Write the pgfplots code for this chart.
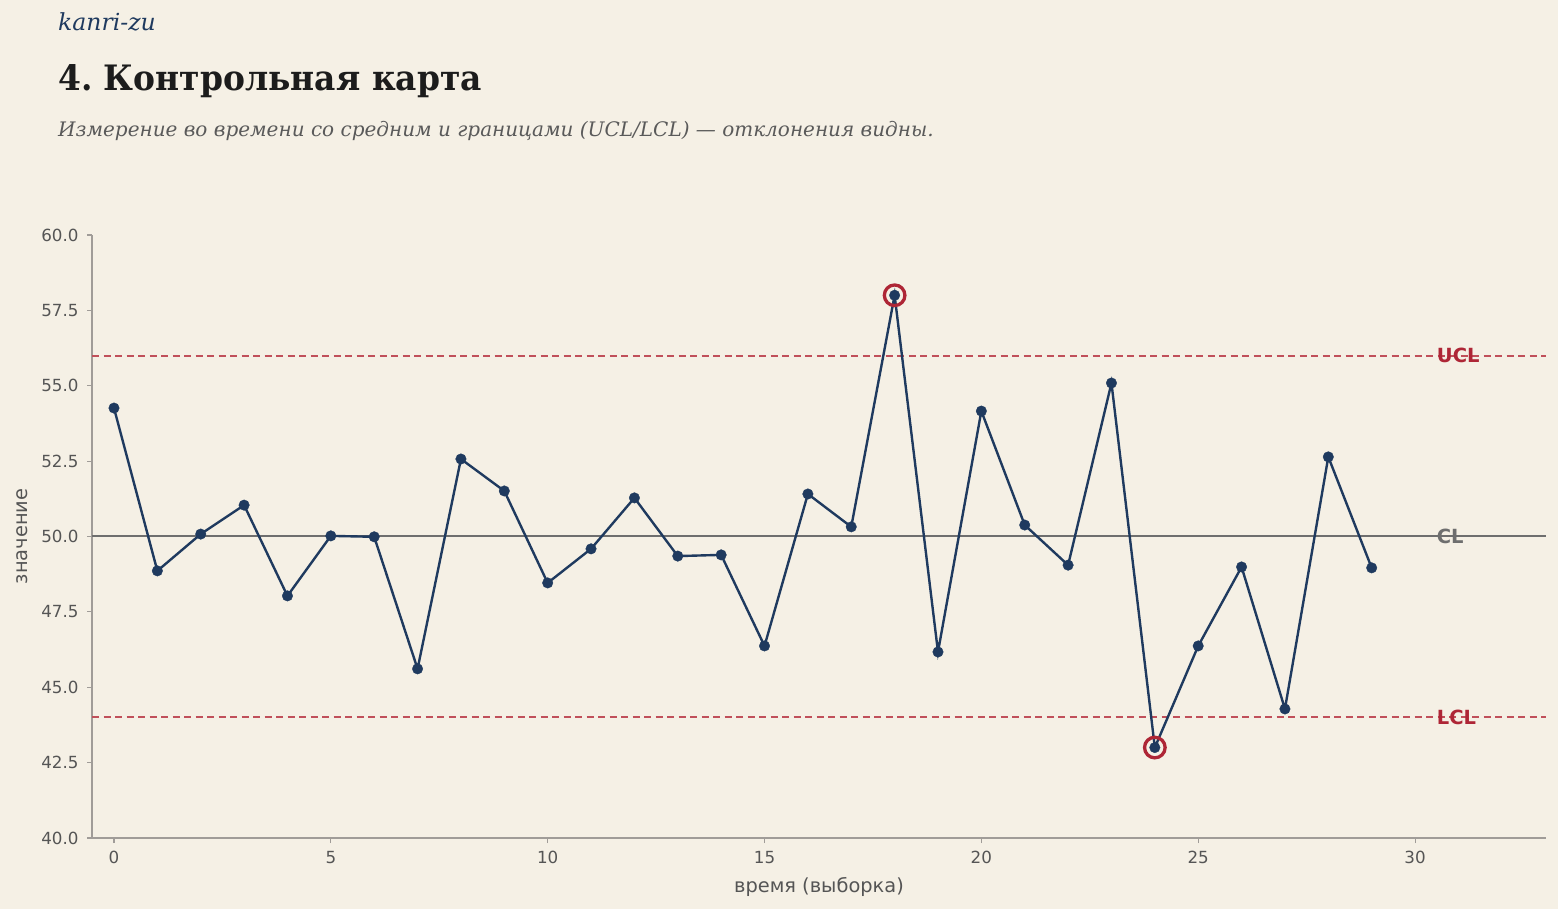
\documentclass[border=0pt]{standalone}
\usepackage{fontspec}
\setmainfont{DejaVu Serif}
\setsansfont{DejaVu Sans}
\newfontfamily\titlefont{DejaVu Serif}[FakeStretch=0.94]
\usepackage{pgfplots}
\pgfplotsset{compat=1.18}

\definecolor{bg}{HTML}{F5F0E5}
\definecolor{navy}{HTML}{1F3A5F}
\definecolor{limred}{HTML}{C0505A}
\definecolor{outred}{HTML}{AE2636}
\definecolor{clgray}{HTML}{6E6E6E}
\definecolor{spine}{HTML}{A09C98}
\definecolor{ticktext}{HTML}{555555}
\definecolor{subtxt}{HTML}{5A5A5A}
\definecolor{titletxt}{HTML}{1C1C1C}
\definecolor{brand}{HTML}{1F3A5F}

\newcommand{\tickfont}{\sffamily\fontsize{16.7bp}{20bp}\selectfont}
\newcommand{\labelfont}{\sffamily\fontsize{19.4bp}{23bp}\selectfont}
\newcommand{\linefont}{\sffamily\bfseries\fontsize{19.5bp}{22bp}\selectfont}

\begin{document}
\frenchspacing
\begin{tikzpicture}[x=1bp,y=1bp]
  \fill[bg] (0,0) rectangle (1558,909);

  % header
  \node[anchor=base west, inner sep=0, text=brand] at (58,878)
    {\fontsize{23.5bp}{28bp}\selectfont\itshape kanri-zu};
  \node[anchor=base west, inner sep=0, text=titletxt] at (58,818)
    {\titlefont\fontsize{35bp}{40bp}\selectfont\bfseries 4. Контрольная карта};
  \node[anchor=base west, inner sep=0, text=subtxt] at (58,772)
    {\fontsize{20bp}{24bp}\selectfont\itshape Измерение во времени со средним и границами (UCL/LCL) — отклонения видны.};

  \begin{axis}[
    at={(92bp,71bp)}, anchor=south west,
    scale only axis, width=1454bp, height=603bp,
    xmin=-0.507, xmax=33.02, ymin=40, ymax=60,
    axis lines*=left,
    axis line style={spine, line width=1.1pt},
    xtick={0,5,...,30}, ytick={40,42.5,...,60},
    tick style={spine, line width=1.1pt},
    tick align=outside, major tick length=5bp,
    /pgf/number format/assume math mode=true,
    yticklabel style={/pgf/number format/fixed, /pgf/number format/fixed zerofill, /pgf/number format/precision=1, xshift=-5bp},
    ticklabel style={font=\tickfont, text=ticktext},
    xticklabel style={yshift=-5bp},
    xlabel={время (выборка)}, ylabel={значение},
    xlabel style={font=\labelfont, text=ticktext, at={(axis description cs:0.5,-0.0912)}, anchor=base},
    ylabel style={font=\labelfont, text=ticktext, at={(axis description cs:-0.0481,0.5)}, anchor=center},
    clip=false,
  ]
    % control limits and centre line
    \addplot[draw=limred, line width=2pt, dash pattern=on 7bp off 4.5bp] coordinates {(-0.507,56) (33.02,56)};
    \addplot[draw=limred, line width=2pt, dash pattern=on 7bp off 4.5bp] coordinates {(-0.507,44) (33.02,44)};
    \addplot[draw=clgray, line width=2pt] coordinates {(-0.507,50) (33.02,50)};

    % measurements
    \addplot[draw=navy, line width=2.4pt, mark=*, mark size=5.3bp, mark options={fill=navy, draw=navy, line width=0.3pt}] coordinates {
      (0,54.26) (1,48.86) (2,50.08) (3,51.04) (4,48.03) (5,50.02)
      (6,49.99) (7,45.61) (8,52.57) (9,51.51) (10,48.46) (11,49.59)
      (12,51.28) (13,49.35) (14,49.39) (15,46.37) (16,51.41) (17,50.32)
      (18,58.00) (19,46.17) (20,54.16) (21,50.38) (22,49.05) (23,55.09)
      (24,43.00) (25,46.37) (26,48.99) (27,44.28) (28,52.64) (29,48.96)
    };

    % points outside the limits
    \addplot[only marks, mark=o, mark size=10.3bp, mark options={draw=outred, line width=3.3pt}] coordinates {(18,58.00) (24,43.00)};

    % line labels
    \node[anchor=west, inner sep=0, text=outred, font=\linefont] at (axis cs:30.5,56) {UCL};
    \node[anchor=west, inner sep=0, text=clgray, font=\linefont] at (axis cs:30.5,50) {CL};
    \node[anchor=west, inner sep=0, text=outred, font=\linefont] at (axis cs:30.5,44) {LCL};
  \end{axis}
\end{tikzpicture}
\end{document}
